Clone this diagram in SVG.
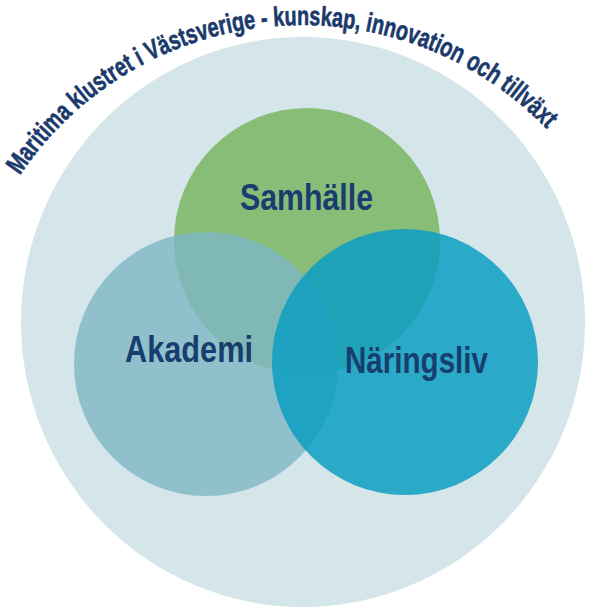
<svg xmlns="http://www.w3.org/2000/svg" xmlns:xlink="http://www.w3.org/1999/xlink" width="590" height="611" viewBox="0 0 590 611">
  <style>
    .lbl { font-family: "Liberation Sans", Arial, sans-serif; font-weight: bold; font-size: 36px; fill: #183d6e; }
    .arc { font-family: "Liberation Sans", Arial, sans-serif; font-weight: bold; font-size: 27px; fill: #1b3a6c; stroke: #1b3a6c; stroke-width: 0.6px; }
  </style>
  <defs>
    <path id="titleArc" d="M 7.6 195 A 340 340 0 0 1 596.4 195" fill="none"/>
  </defs>
  <rect width="590" height="611" fill="#ffffff"/>
  <g id="outer">
    <ellipse cx="303" cy="322" rx="282" ry="285" fill="#d4e6ea"/>
    <text class="arc"><textPath xlink:href="#titleArc" startOffset="23" textLength="606" lengthAdjust="spacingAndGlyphs">Maritima klustret i Västsverige - kunskap, innovation och tillväxt</textPath></text>
  </g>
  <g id="samhalle">
    <circle cx="307" cy="241" r="133" fill="#88bd78"/>
  </g>
  <g id="akademi">
    <circle cx="206" cy="364" r="132" fill="#7db6c3" fill-opacity="0.8"/>
  </g>
  <g id="naringsliv">
    <circle cx="405" cy="362" r="133" fill="#0c9dc2" fill-opacity="0.85"/>
  </g>
  <g id="labels">
    <text class="lbl" x="240" y="210" textLength="133" lengthAdjust="spacingAndGlyphs">Samhälle</text>
    <text class="lbl" x="125" y="362" textLength="128" lengthAdjust="spacingAndGlyphs">Akademi</text>
    <text class="lbl" x="345" y="373" textLength="143" lengthAdjust="spacingAndGlyphs">Näringsliv</text>
  </g>
</svg>
